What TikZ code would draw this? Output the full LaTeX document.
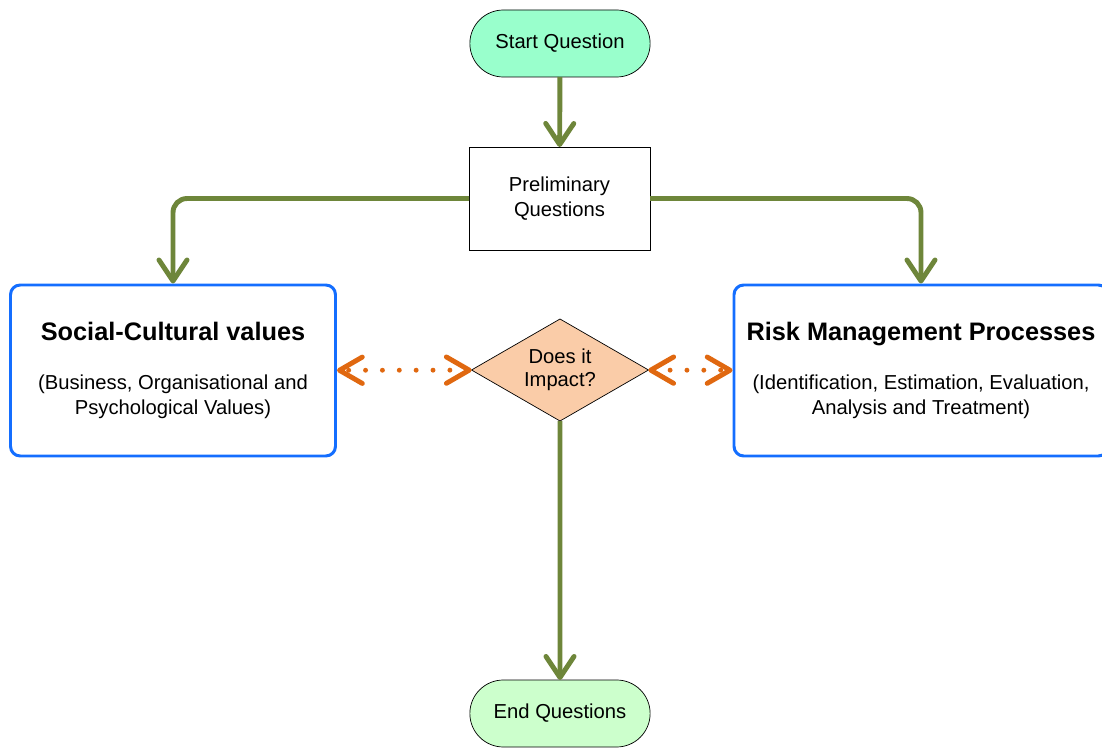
\documentclass[tikz,border=0pt]{standalone}
\usepackage{fontspec}
\setmainfont{Liberation Sans}
\usepackage{xcolor}
\usepackage{tikz}
\usetikzlibrary{arrows.meta, positioning, shapes.geometric, shapes.misc}

\definecolor{startgreen}{RGB}{153,255,204}
\definecolor{endgreen}{RGB}{204,255,204}
\definecolor{flowgreen}{RGB}{110,134,58}
\definecolor{linkorange}{RGB}{224,104,16}
\definecolor{boxblue}{RGB}{20,110,255}
\definecolor{peach}{RGB}{250,204,168}

\tikzset{
  startstop/.style={rounded rectangle, draw=black, thin, minimum width=3.84cm,
    minimum height=1.34cm, outer sep=0pt},
  process/.style={rectangle, draw=black, thin, minimum width=3.62cm,
    minimum height=2.06cm, align=center, outer sep=0pt},
  decision/.style={diamond, aspect=1.74, draw=black, thin, fill=peach, minimum width=3.54cm,
    minimum height=2.04cm, inner sep=0pt, align=center, outer sep=0pt,
    font=\fontsize{11.5}{13}\selectfont},
  valuebox/.style={rectangle, rounded corners=5.5pt, draw=boxblue, line width=1.7pt,
    minimum width=6.5cm, minimum height=3.42cm, align=center},
  flowline/.style={draw=flowgreen, line width=2.8pt, rounded corners=8pt,
    -{Straight Barb[length=12pt, width=16pt, round]}},
  linkline/.style={draw=linkorange, line width=2.8pt, line cap=round,
    dash pattern=on 0pt off 9.6pt,
    {Straight Barb[length=13pt, width=15pt, round]}-{Straight Barb[length=13pt, width=15pt, round]}},
}

\begin{document}
\begin{tikzpicture}[font=\fontsize{11.5}{14.2}\selectfont]
  \useasboundingbox (0,0) rectangle (22.04,14.94);

  % nodes
  \node[startstop, fill=startgreen] (start) at (11.2,14.07) {Start Question};
  \node[process] (prelim) at (11.19,10.97) {Preliminary\\Questions};
  \node[decision] (impact) at (11.2,7.54) {Does it\\Impact?};
  \node[valuebox] (social) at (3.46,7.53)
    {{\fontsize{14.4}{17}\selectfont\bfseries Social-Cultural values}\\[14pt]
     (Business, Organisational and\\Psychological Values)};
  \node[valuebox, minimum width=7.48cm] (risk) at (18.42,7.53)
    {{\fontsize{14.4}{17}\selectfont\bfseries Risk Management Processes}\\[14pt]
     (Identification, Estimation, Evaluation,\\Analysis and Treatment)};
  \node[startstop, fill=endgreen] (end) at (11.2,0.67) {End Questions};

  % connectors
  \draw[flowline] (start) -- (prelim);
  \draw[flowline] (prelim.west) -| (social.north);
  \draw[flowline] (prelim.east) -| (risk.north);
  \draw[flowline] (impact) -- (end);
  \draw[linkline] (impact) -- (social);
  \draw[linkline] (impact) -- (risk);
\end{tikzpicture}
\end{document}
